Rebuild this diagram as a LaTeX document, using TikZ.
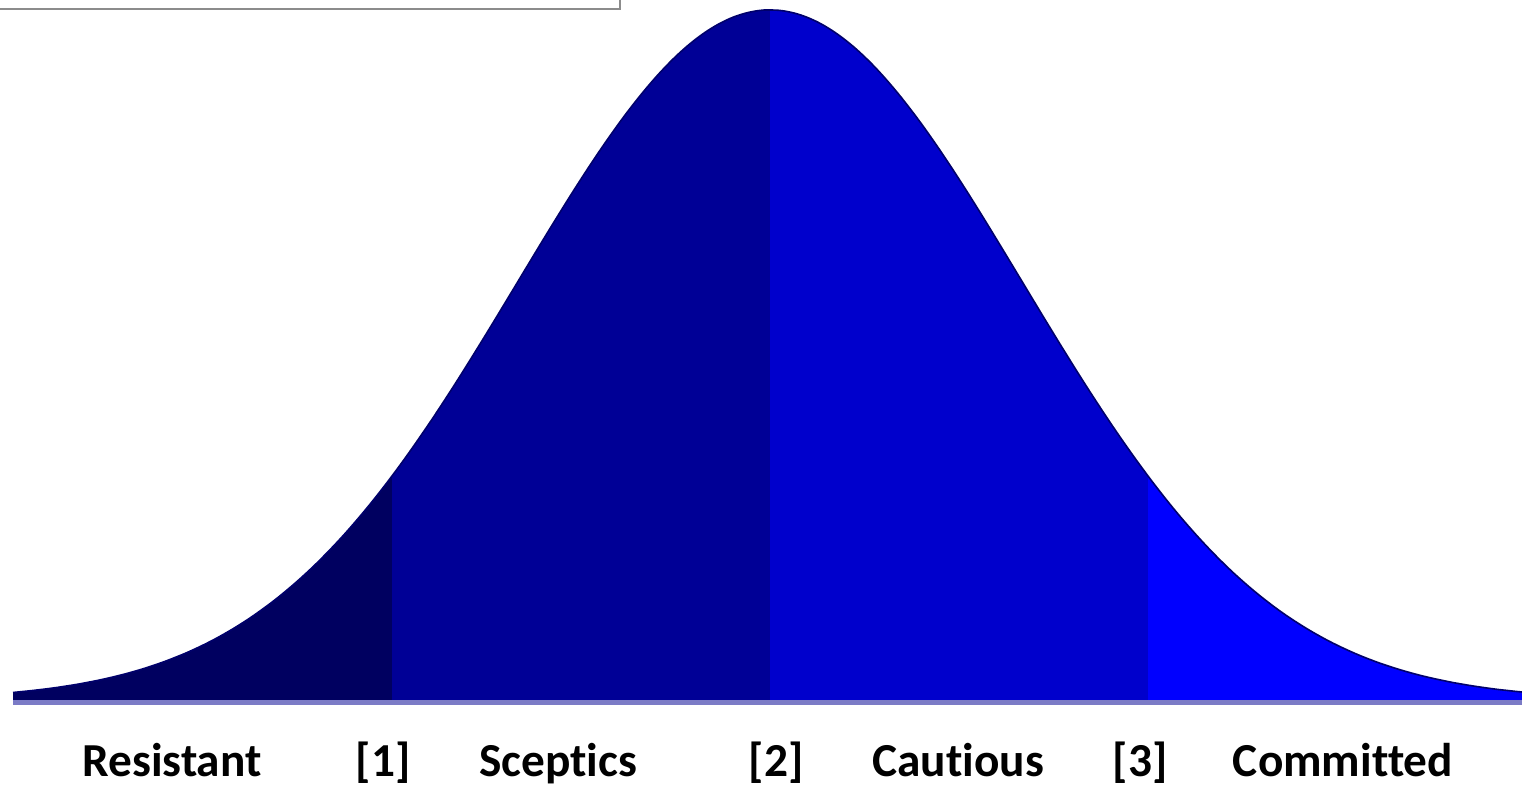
\documentclass[tikz,border=0pt]{standalone}
\usepackage{fontspec}
\setmainfont[Ligatures=NoCommon]{Carlito}
\usetikzlibrary{positioning}
\definecolor{bandA}{HTML}{000060}
\definecolor{bandB}{HTML}{000096}
\definecolor{bandC}{HTML}{0000CC}
\definecolor{bandD}{HTML}{0000FF}
\definecolor{baseln}{HTML}{7B7BC6}
\definecolor{boxgray}{HTML}{8C8C8C}

\begin{document}
\begin{tikzpicture}[x=0.75pt,y=-0.75pt,
 lbl/.style={font=\fontsize{35.5}{40}\selectfont\bfseries,inner sep=0pt,anchor=base}]
\useasboundingbox (0,0) rectangle (1522,785);
% bell curve, centre 770, spread 252 px
\def\bell(#1){700-690*exp(-((#1-770)/252)^2/2)}
\foreach \xa/\xb/\col in {13/392/bandA,392/770/bandB,770/1148/bandC,1148/1522/bandD}{
 \fill[\col] (\xa,701) -- plot[domain=\xa:\xb,samples=80,smooth] (\x,{\bell(\x)}) -- (\xb,701) -- cycle;
}
\draw[bandA!80!bandB,line width=1.2pt] plot[domain=13:1522,samples=200,smooth] (\x,{\bell(\x)});
\draw[baseln,line width=3.5pt] (13,702.5) -- (1522,702.5);
% corner of a frame cut by the top edge
\draw[boxgray,line width=1pt] (0,9) -- (620,9) -- (620,0);
% category labels under the curve
\foreach \x/\n/\t in {172/res/Resistant,383/one/{[1]},558/sce/Sceptics,776/two/{[2]},958/cau/Cautious,1140/three/{[3]},1343/com/Committed}{
 \node[lbl] (\n) at (\x,776) {\t};
}
\end{tikzpicture}
\end{document}
